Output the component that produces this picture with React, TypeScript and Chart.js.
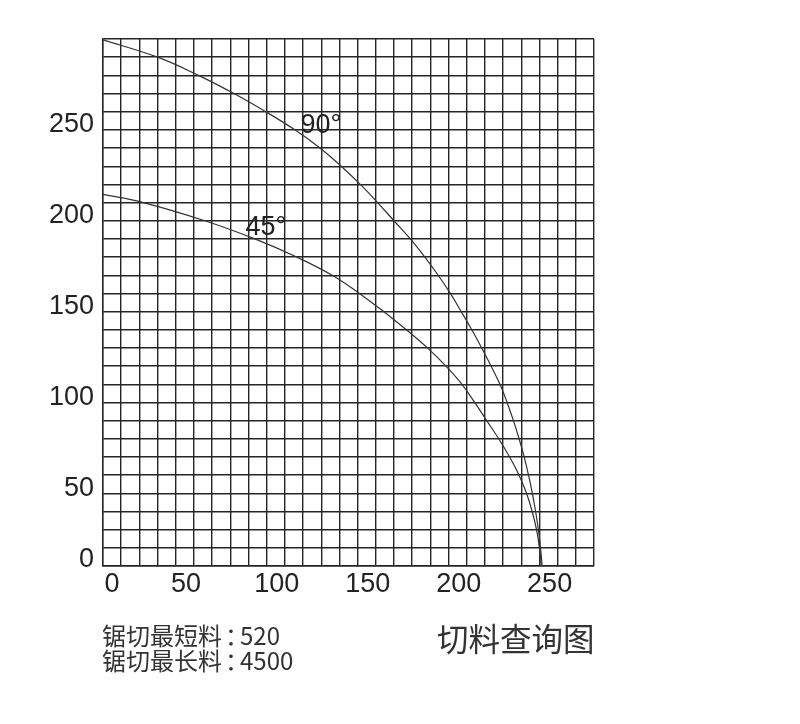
import { useEffect, useRef } from "react";
import { Chart, registerables, type ChartConfiguration, type Plugin } from "chart.js";

Chart.register(...registerables);

// axis extents (grid is every 10 units)
const X_MAX = 270;
const Y_MAX = 290;
const GRID_STEP = 10;

const xTickLabels = [0, 50, 100, 150, 200, 250];
const yTickLabels = [0, 50, 100, 150, 200, 250];

// 90° cut curve
const cut90X = [0, 30, 52.5, 72, 89.5, 105.5, 119.3, 131, 141.5, 151, 160, 169, 177, 184.3, 191, 197, 202.8, 208.2, 213.4, 218.3, 222.2, 225.7, 228.8, 231.6, 234, 236.1, 237.9, 239.4, 240.6, 241.5];
const cut90Y = [289.5, 280, 270, 260, 250, 240, 230, 220, 210, 200, 190, 180, 170, 160, 150, 140, 130, 120, 110, 100, 90, 80, 70, 60, 50, 40, 30, 20, 10, 0];

// 45° cut curve
const cut45X = [0, 22.2, 56, 83.5, 106.5, 126, 141, 154.3, 166.8, 178.4, 188.6, 197.4, 204.4, 211, 217.6, 223.6, 228.8, 232.9, 236, 238.4, 240, 241];
const cut45Y = [204.5, 200, 190, 180, 170, 160, 150, 140, 130, 120, 110, 100, 90, 80, 70, 60, 50, 40, 30, 20, 10, 0];

const angleLabels = ["90°", "45°"];
const angleLabelX = [108.6, 78.4];
const angleLabelY = [238.1, 182.2];

const shortestCutLabel = "锯切最短料";
const shortestCutValue = "520";
const longestCutLabel = "锯切最长料";
const longestCutValue = "4500";
const chartTitle = "切料查询图";

const GRID = "#252525";
const CURVE = "#333";
const LABEL_FONT = '27px "Liberation Sans", Arial, sans-serif';

const labelsPlugin: Plugin<"line"> = {
  id: "cutLabels",
  afterDraw(chart) {
    const { ctx, chartArea } = chart;
    const x = chart.scales.x;
    const y = chart.scales.y;
    ctx.save();
    ctx.font = LABEL_FONT;
    ctx.fillStyle = "#222";
    ctx.textBaseline = "alphabetic";

    ctx.textAlign = "center";
    xTickLabels.forEach(v => {
      const px = x.getPixelForValue(v) + (v === 0 ? 9 : -8);
      ctx.fillText(String(v), px, chartArea.bottom + 26);
    });

    ctx.textAlign = "right";
    yTickLabels.forEach(v => {
      const py = y.getPixelForValue(v) + (v === 0 ? 1 : 20.5);
      ctx.fillText(String(v), chartArea.left - 9, py);
    });

    ctx.textAlign = "left";
    angleLabels.forEach((t, i) => {
      ctx.fillText(t, x.getPixelForValue(angleLabelX[i]), y.getPixelForValue(angleLabelY[i]));
    });
    ctx.restore();
  },
};

export default function App() {
  const canvasRef = useRef<HTMLCanvasElement>(null);

  useEffect(() => {
    if (!canvasRef.current) return;

    const axis = (max: number) => ({
      type: "linear" as const,
      min: 0,
      max,
      grid: { color: GRID, lineWidth: 1.4, drawTicks: false },
      border: { color: GRID, width: 1.4 },
      ticks: { display: false, stepSize: GRID_STEP, autoSkip: false },
    });

    const config: ChartConfiguration<"line"> = {
      type: "line",
      data: {
        datasets: [
          {
            label: "90°",
            data: cut90X.map((v, i) => ({ x: v, y: cut90Y[i] })),
            borderColor: CURVE,
            borderWidth: 1.2,
            tension: 0.4,
            fill: false,
            pointRadius: 0,
          },
          {
            label: "45°",
            data: cut45X.map((v, i) => ({ x: v, y: cut45Y[i] })),
            borderColor: CURVE,
            borderWidth: 1.2,
            tension: 0.4,
            fill: false,
            pointRadius: 0,
          },
        ],
      },
      options: {
        animation: false,
        responsive: true,
        maintainAspectRatio: false,
        layout: { padding: { left: 103, top: 39, right: 206, bottom: 158 } },
        plugins: { legend: { display: false }, tooltip: { enabled: false } },
        scales: { x: axis(X_MAX), y: axis(Y_MAX) },
      },
      plugins: [labelsPlugin],
    };

    const chart = new Chart(canvasRef.current, config);
    return () => { chart.destroy(); };
  }, []);

  const cjk = '"Noto Sans CJK SC", "Noto Sans", sans-serif';
  const colon = (
    <span style={{ fontFeatureSettings: '"halt"', marginLeft: 3, marginRight: 3 }}>：</span>
  );

  return (
    <div style={{ position: "absolute", left: 0, top: 0, width: 800, height: 724, background: "#fff" }}>
      <canvas ref={canvasRef} />
      <div style={{
        position: "absolute", left: 102, top: 622, fontFamily: cjk, fontSize: 24,
        lineHeight: "25px", color: "#333", whiteSpace: "nowrap",
      }}>
        <div>{shortestCutLabel}{colon}{shortestCutValue}</div>
        <div>{longestCutLabel}{colon}{longestCutValue}</div>
      </div>
      <div style={{
        position: "absolute", left: 437, top: 622, fontFamily: cjk, fontSize: 31.5,
        lineHeight: "31px", color: "#333", whiteSpace: "nowrap",
      }}>
        {chartTitle}
      </div>
    </div>
  );
}
